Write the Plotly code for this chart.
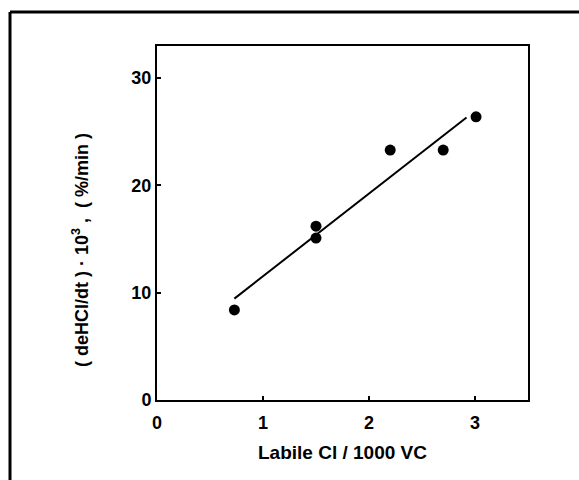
import numpy as np
import plotly.graph_objects as go

# Labile chlorine content vs. dehydrochlorination rate
labile_cl = [0.73, 1.50, 1.50, 2.20, 2.70, 3.01]
dehcl_rate = [8.4, 16.2, 15.1, 23.3, 23.3, 26.4]

# extent of the drawn regression line
fit_x_range = [0.73, 2.92]

x_ticks = [0, 1, 2, 3]
y_ticks = [0, 10, 20, 30]

x_title = "Labile Cl / 1000 VC"
y_title = "( deHCl/dt ) · 10<sup>3</sup> ,  ( %/min )"

slope, intercept = np.polyfit(labile_cl, dehcl_rate, 1)
fit_x = np.array(fit_x_range)
fit_y = slope * fit_x + intercept

W, H = 579, 480
L, R, T, B = 157, 51, 46, 80
pw, ph = W - L - R, H - T - B


def px_to_paper(px, py):
    return (px - L) / pw, (H - B - py) / ph


font = dict(family="Liberation Sans, Arial, sans-serif", color="black")

fig = go.Figure()
fig.add_trace(go.Scatter(
    x=fit_x, y=fit_y, mode="lines",
    line=dict(color="black", width=2), showlegend=False, hoverinfo="skip",
))
fig.add_trace(go.Scatter(
    x=labile_cl, y=dehcl_rate, mode="markers",
    marker=dict(color="black", size=11), showlegend=False,
))

axis_common = dict(
    showgrid=False, zeroline=False, showline=True, mirror=True,
    linecolor="black", linewidth=2, ticks="inside", ticklen=4,
    tickwidth=1.5, tickcolor="black",
    tickfont=dict(size=18, **font),
)

fig.update_xaxes(
    range=[0, 3.5], tickvals=x_ticks, ticktext=[f"<b>{v}</b>" for v in x_ticks],
    ticklabelstandoff=5, **axis_common,
)
fig.update_yaxes(
    range=[0, 33], tickvals=y_ticks, ticktext=[f"<b>{v}</b>" for v in y_ticks],
    ticklabelstandoff=0, **axis_common,
)

# axis titles
tx, ty = px_to_paper(342, 453)
fig.add_annotation(text=f"<b>{x_title}</b>", xref="paper", yref="paper", x=tx, y=ty,
                   xanchor="center", yanchor="middle", showarrow=False,
                   font=dict(size=19, **font))
tx, ty = px_to_paper(80, 250)
fig.add_annotation(text=f"<b>{y_title}</b>", xref="paper", yref="paper", x=tx, y=ty,
                   xanchor="center", yanchor="middle", showarrow=False, textangle=-90,
                   font=dict(size=18, **font))

# outer frame: top and left edges
x0, y0 = px_to_paper(10, 12)
x1, _ = px_to_paper(W + 5, 12)
_, y1 = px_to_paper(10, H + 5)
fig.add_shape(type="line", xref="paper", yref="paper", x0=x0, y0=y0, x1=x1, y1=y0,
              line=dict(color="black", width=3))
fig.add_shape(type="line", xref="paper", yref="paper", x0=x0, y0=y0, x1=x0, y1=y1,
              line=dict(color="black", width=3))

fig.update_layout(
    width=W, height=H,
    margin=dict(l=L, r=R, t=T, b=B, autoexpand=False),
    paper_bgcolor="white", plot_bgcolor="white",
    font=font,
)

fig.write_html("out.html")
